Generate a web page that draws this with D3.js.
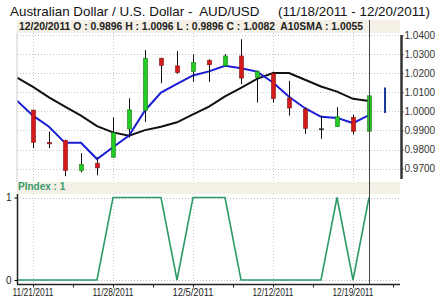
<!DOCTYPE html>
<html><head><meta charset="utf-8">
<script src="https://cdn.jsdelivr.net/npm/d3@7"></script>
<style>
body{margin:0;background:#fff;}
svg{display:block;font-family:"Liberation Sans",Arial,sans-serif;}
</style></head>
<body><svg id="c" width="435" height="298"></svg>
<script>
const dates = ["11/18/2011","11/21/2011","11/22/2011","11/23/2011","11/24/2011","11/25/2011","11/28/2011","11/29/2011","11/30/2011","12/1/2011","12/2/2011","12/5/2011","12/6/2011","12/7/2011","12/8/2011","12/9/2011","12/12/2011","12/13/2011","12/14/2011","12/15/2011","12/16/2011","12/19/2011","12/20/2011"];
const openV  = [null,1.0007,0.9838,0.9847,0.9690,0.9728,0.9760,0.9908,1.0005,1.0279,1.0239,1.0210,1.0268,1.0239,1.0291,1.0178,1.0198,1.0070,1.0012,0.9909,0.9920,0.9969,0.9896];
const highV  = [null,1.0008,0.9894,0.9852,0.9781,0.9760,0.9969,1.0069,1.0322,1.0282,1.0317,1.0299,1.0274,1.0300,1.0379,1.0215,1.0209,1.0160,1.0021,0.9978,1.0022,0.9984,1.0096];
const lowV   = [null,0.9807,0.9807,0.9660,0.9680,0.9665,0.9758,0.9862,0.9945,1.0148,1.0198,1.0155,1.0155,1.0237,1.0143,1.0047,1.0047,0.9978,0.9882,0.9856,0.9918,0.9880,0.9896];
const closeV = [null,0.9838,0.9830,0.9690,0.9722,0.9704,0.9888,1.0008,1.0279,1.0242,1.0204,1.0256,1.0245,1.0291,1.0175,1.0210,1.0067,1.0018,0.9911,0.9907,0.9972,0.9896,1.0082];
const sma10  = [1.0178,1.0129,1.0074,1.0025,0.9978,0.9923,0.9890,0.9873,0.9902,0.9920,0.9943,0.9985,1.0025,1.0079,1.0124,1.0171,1.0201,1.0201,1.0166,1.0131,1.0104,1.0066,1.0055];
const blueLine = [1.0056,0.9978,0.9920,0.9835,0.9835,0.9750,0.9812,0.9874,1.0005,1.0099,1.0145,1.0189,1.0210,1.0239,1.0227,1.0209,1.0152,1.0077,1.0017,0.9972,0.9966,0.9939,0.9981];
const pindex = [0,0,0,0,0,0,1,1,1,1,0,1,1,1,0,0,0,0,0,0,1,0,1];
const projection = [1.0125, 0.9992]; // next-day range
const priceTicks = [0.97,0.98,0.99,1.00,1.01,1.02,1.03,1.04];
const dateTickIdx = [1,6,11,16,21];

const svg = d3.select("#c");
const L = 17, R = 401;
const x = d3.scaleLinear().domain([0,24]).range([L,R]);
const y = d3.scaleLinear().domain([0.97,1.04]).range([168.6,35.2]);
const yp = d3.scaleLinear().domain([0,1]).range([280,197.5]);
const beige = "#f4f0e6";

// title
svg.append("text").attr("x",10).attr("y",16).attr("font-size",13).attr("fill","#111")
  .attr("textLength",420).attr("lengthAdjust","spacingAndGlyphs")
  .text("Australian Dollar / U.S. Dollar -  AUD/USD     (11/18/2011 - 12/20/2011)").style("white-space","pre");

// upper panel background/grid
const up = svg.append("g");
up.append("rect").attr("x",L).attr("y",20).attr("width",383).attr("height",13).attr("fill",beige);
up.append("line").attr("x1",L).attr("x2",L).attr("y1",33).attr("y2",182).attr("stroke","#ccc");
up.selectAll(".hg").data(priceTicks).join("line")
  .attr("x1",L).attr("x2",400).attr("y1",d=>Math.round(y(d))+0.5).attr("y2",d=>Math.round(y(d))+0.5)
  .attr("stroke","#c8c8c8").attr("stroke-dasharray","1,2");
up.selectAll(".vg").data(dateTickIdx).join("line")
  .attr("x1",d=>Math.round(x(d))+0.5).attr("x2",d=>Math.round(x(d))+0.5).attr("y1",33).attr("y2",182)
  .attr("stroke","#c8c8c8").attr("stroke-dasharray","1,2");

svg.append("defs").append("clipPath").attr("id","clipU").append("rect")
  .attr("x",L+0.5).attr("y",33).attr("width",R-L).attr("height",149);
const plot = svg.append("g").attr("clip-path","url(#clipU)");

// SMA lines
const idx = d3.range(dates.length);
plot.append("path").datum(idx)
  .attr("d",d3.line().x(i=>x(i)).y(i=>y(sma10[i])))
  .attr("fill","none").attr("stroke","#111").attr("stroke-width",2);
plot.append("path").datum(idx)
  .attr("d",d3.line().x(i=>x(i)).y(i=>y(blueLine[i])))
  .attr("fill","none").attr("stroke","#1c1cd6").attr("stroke-width",2);

// candles
const cIdx = idx.filter(i=>openV[i]!=null);
const cg = plot.append("g");
cg.selectAll(".wick").data(cIdx).join("line")
  .attr("x1",i=>Math.round(x(i))+0.5).attr("x2",i=>Math.round(x(i))+0.5)
  .attr("y1",i=>y(highV[i])).attr("y2",i=>y(lowV[i]))
  .attr("stroke","#111").attr("stroke-width",1);
cg.selectAll(".body").data(cIdx).join("rect")
  .attr("x",i=>Math.round(x(i))-1.5).attr("width",4)
  .attr("y",i=>y(Math.max(openV[i],closeV[i])))
  .attr("height",i=>Math.max(1,Math.abs(y(openV[i])-y(closeV[i]))))
  .attr("fill",i=>Math.abs(closeV[i]-openV[i])<0.0005?"#222":(closeV[i]>openV[i]?"#22cc22":"#d41a1a"))
  .attr("stroke",i=>Math.abs(closeV[i]-openV[i])<0.0005?"#222":(closeV[i]>openV[i]?"#137a13":"#8a1010"))
  .attr("stroke-width",0.6);

// projection line
plot.append("line").attr("x1",x(23)).attr("x2",x(23))
  .attr("y1",y(projection[0])).attr("y2",y(projection[1]))
  .attr("stroke","#1a3a96").attr("stroke-width",2);

// header text
svg.append("text").attr("x",19).attr("y",29.5).attr("font-size",10).attr("font-weight","bold").attr("fill","#222")
  .attr("textLength",344).attr("lengthAdjust","spacingAndGlyphs").style("white-space","pre")
  .text("12/20/2011 O : 0.9896 H : 1.0096 L : 0.9896 C : 1.0082  A10SMA : 1.0055");

// right axis
const ra = svg.append("g").attr("transform",`translate(${R+0.5},0)`)
  .call(d3.axisRight(y).tickValues(priceTicks).tickFormat(d3.format(".4f")).tickSize(2).tickPadding(1));
ra.select(".domain").attr("d",`M0,35V179`).attr("stroke","#333").attr("stroke-width",2.5);
ra.selectAll(".tick line").attr("stroke","#333");
ra.selectAll("text").attr("font-size",10).attr("fill","#333").attr("font-family","Liberation Sans, Arial, sans-serif");

// lower panel
svg.append("rect").attr("x",L).attr("y",182).attr("width",383).attr("height",12).attr("fill",beige);
svg.append("text").attr("x",18).attr("y",190).attr("font-size",10).attr("font-weight","bold").attr("fill","#3a9a6a")
  .text("PIndex : 1");
svg.selectAll(".pg").data([0,1]).join("line")
  .attr("x1",L).attr("x2",400).attr("y1",d=>Math.round(yp(d))+0.5).attr("y2",d=>Math.round(yp(d))+0.5)
  .attr("stroke","#bbb").attr("stroke-dasharray","1,2");
svg.selectAll(".pvg").data(dateTickIdx).join("line")
  .attr("x1",d=>Math.round(x(d))+0.5).attr("x2",d=>Math.round(x(d))+0.5).attr("y1",194).attr("y2",284)
  .attr("stroke","#d0d0d0").attr("stroke-dasharray","1,2");
svg.append("path").datum(idx)
  .attr("d",d3.line().x(i=>x(i)).y(i=>yp(pindex[i])))
  .attr("fill","none").attr("stroke","#2e9a68").attr("stroke-width",1.6);

// cursor line
svg.append("line").attr("x1",Math.round(x(22))+0.5).attr("x2",Math.round(x(22))+0.5)
  .attr("y1",20).attr("y2",284).attr("stroke","#444").attr("stroke-width",1);

// left axis lower
const la = svg.append("g").attr("transform",`translate(${L+0.5},0)`)
  .call(d3.axisLeft(yp).tickValues([0,1]).tickFormat(d3.format("d")).tickSize(3).tickPadding(3));
la.select(".domain").attr("d","M0,194V284.5").attr("stroke","#222").attr("stroke-width",1.5);
la.selectAll("text").attr("font-size",10).attr("fill","#222").attr("font-family","Liberation Sans, Arial, sans-serif");

// bottom axis
const ba = svg.append("g").attr("transform","translate(0,284.5)")
  .call(d3.axisBottom(x).tickValues(d3.range(1,24,2.5)).tickSize(3).tickFormat(""));
ba.select(".domain").attr("d",`M${L},0H400`).attr("stroke","#222").attr("stroke-width",1.5);
ba.selectAll(".tick line").attr("stroke","#222");
svg.append("g").selectAll("text").data(dateTickIdx).join("text")
  .attr("x",d=>x(d)).attr("y",296).attr("text-anchor","middle").attr("font-size",10).attr("fill","#222")
  .attr("textLength",41).attr("lengthAdjust","spacingAndGlyphs")
  .text(d=>dates[d]);
</script></body></html>
